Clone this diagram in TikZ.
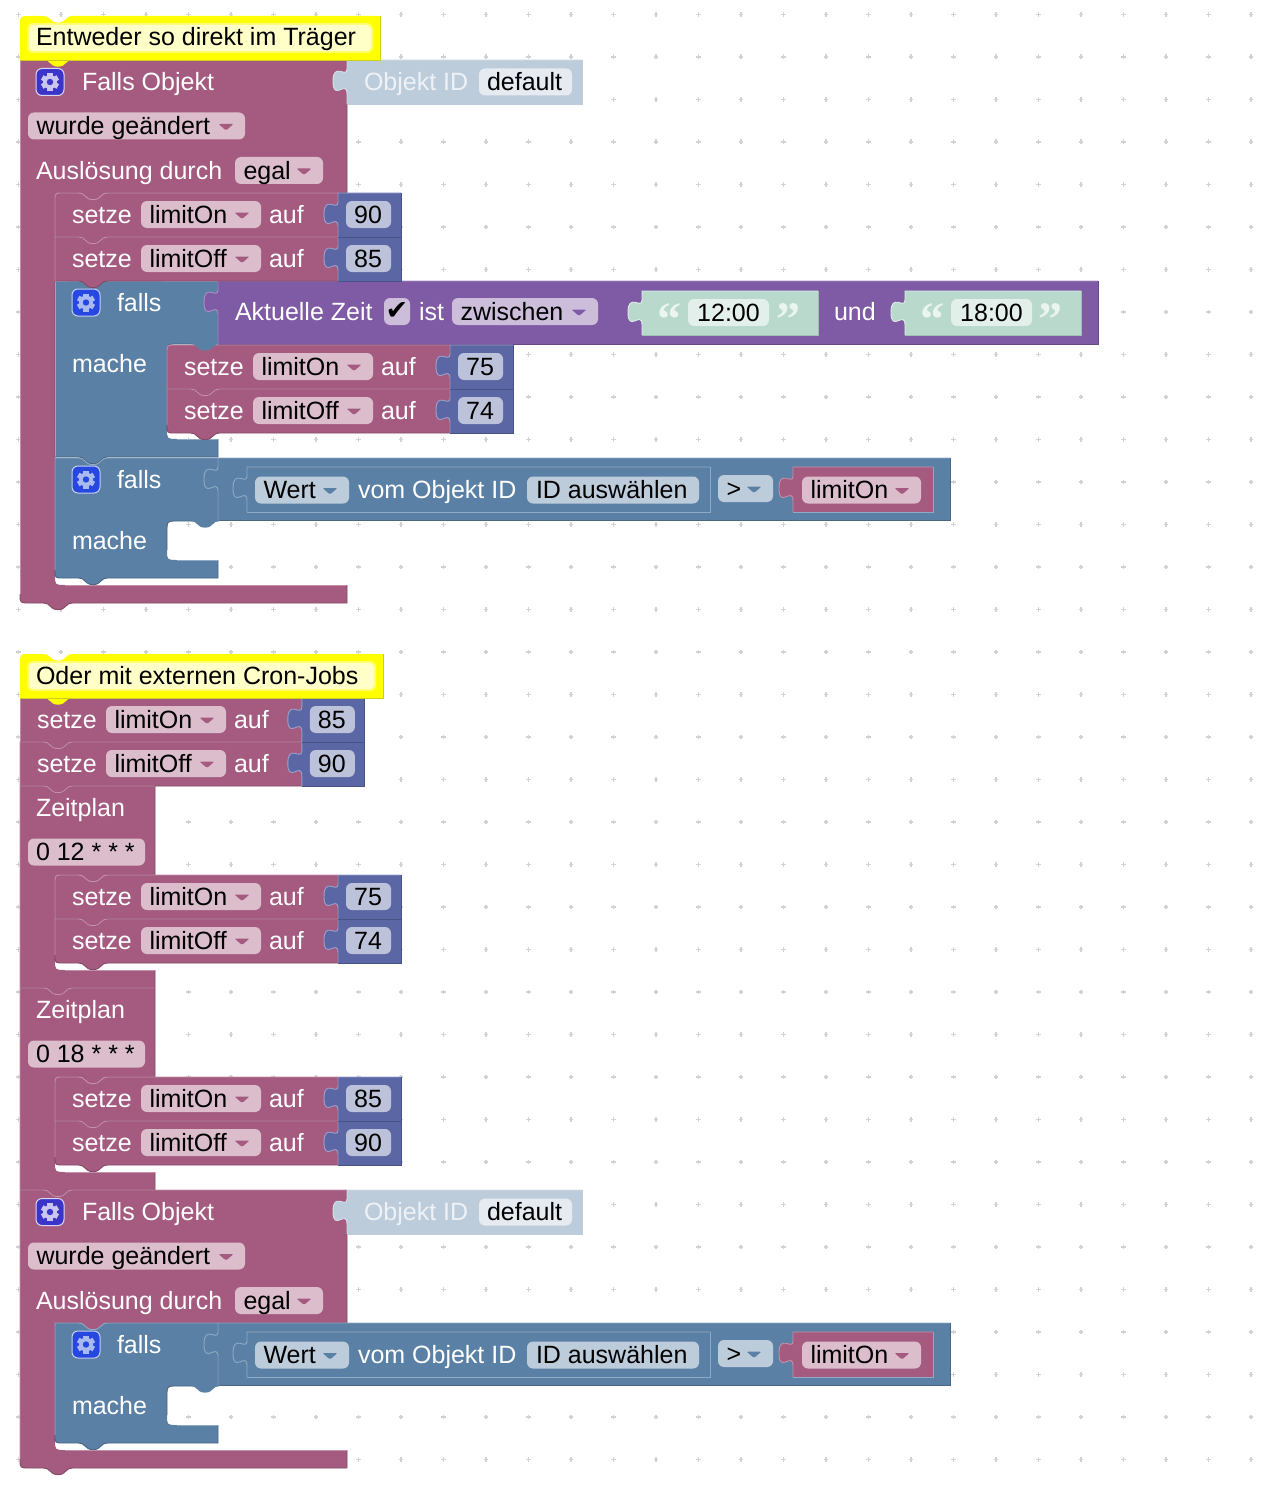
\documentclass[tikz,border=0pt]{standalone}
\usepackage{fontspec}
\setmainfont{Liberation Sans}
\newfontfamily\djv{DejaVu Sans}
\newfontfamily\qfont{Liberation Serif}
\pgfdeclarelayer{hl}
\pgfsetlayers{main,hl}
\definecolor{bkm}{HTML}{A55B80}\definecolor{ltm}{HTML}{C48FAA}\definecolor{dkm}{HTML}{844966}\definecolor{flm}{HTML}{DBBDCC}
\definecolor{bkb}{HTML}{5B80A5}\definecolor{ltb}{HTML}{8FAAC4}\definecolor{dkb}{HTML}{496684}\definecolor{flb}{HTML}{BDCCDB}
\definecolor{bkp}{HTML}{805BA5}\definecolor{ltp}{HTML}{AA8FC4}\definecolor{dkp}{HTML}{664984}\definecolor{flp}{HTML}{CCBDDB}
\definecolor{bki}{HTML}{5B67A5}\definecolor{lti}{HTML}{9AA2CC}\definecolor{dki}{HTML}{495284}\definecolor{fli}{HTML}{BDC2DB}
\definecolor{bkg}{HTML}{B8D9CC}\definecolor{ltg}{HTML}{DDEEE6}\definecolor{dkg}{HTML}{A3BFB4}\definecolor{flg}{HTML}{E3EFEA}
\definecolor{bks}{HTML}{BDCCDB}\definecolor{lts}{HTML}{D6E0EA}\definecolor{dks}{HTML}{BDCCDB}\definecolor{fls}{HTML}{E5EBF1}
\definecolor{yel}{HTML}{FFFF00}\definecolor{yelmid}{HTML}{FFFF70}\definecolor{yelin}{HTML}{FFFFC8}\definecolor{yeld}{HTML}{CFCF20}
\definecolor{gridc}{HTML}{D2D2D2}
\definecolor{quotec}{HTML}{EAF4F0}
\tikzset{
  edge/.style={line width=0.9pt},
  txt/.style={inner sep=0pt,outer sep=0pt,anchor=base west,font=\fontsize{25}{30}\selectfont},
  txtc/.style={inner sep=0pt,outer sep=0pt,anchor=base,font=\fontsize{25}{30}\selectfont},
  quotemark/.style={inner sep=0pt,outer sep=0pt,anchor=base,text=quotec,font=\qfont\bfseries\fontsize{48}{48}\selectfont}
}
\newcount\nn
\def\VO{0}
\def\Tab#1#2#3#4{-- (#1-14.5*#2,#3) .. controls (#1-11*#2,#3) and (#1-10*#2,#3+1*#4) .. (#1-8*#2,#3+3*#4) -- (#1-5*#2,#3+5.5*#4) .. controls (#1-3*#2,#3+7*#4) and (#1+3*#2,#3+7*#4) .. (#1+5*#2,#3+5.5*#4) -- (#1+8*#2,#3+3*#4) .. controls (#1+10*#2,#3+1*#4) and (#1+11*#2,#3) .. (#1+14.5*#2,#3)}
\def\Puz#1#2#3#4{-- (#1,#2) .. controls (#1,#2+0.4*#4) and (#1-#3,#2-0.32*#4) .. (#1-#3,#2+0.5*#4) .. controls (#1-#3,#2+1.32*#4) and (#1,#2+0.4*#4) .. (#1,#2+#4)}
\newcommand\OnTop[2]{\ifnum#1=0\relax #2\else\begin{pgfonlayer}{hl}#2\end{pgfonlayer}\fi}
% k d rb x1 y1 x2 yin1 xin yin2
\newcommand\CBlock[9]{%
 \fill[fill=bk#1] (#4,#5) -- (#6,#5) -- (#6,#7) -- (#8+10,#7) .. controls (#8,#7) .. (#8,#7+10) -- (#8,#9-10) .. controls (#8,#9) .. (#8+10,#9) -- (#6,#9) -- (#6,#9+18) \Tab{#4+38}{-1}{#9+18}{1} -- (#4+#3,#9+18) .. controls (#4,#9+18) .. (#4,#9+18-#3) -- cycle;
 \OnTop{#2}{\draw[edge,draw=lt#1] (#4,#9+18-#3) -- (#4,#5) \Tab{#4+38}{1}{#5}{#2} -- (#6,#5);
   \draw[edge,draw=lt#1] (#8+10,#9) -- (#6,#9);}
 \draw[edge,draw=dk#1] (#6,#5) -- (#6,#7) -- (#8+10,#7) .. controls (#8,#7) .. (#8,#7+10) -- (#8,#9-10);
 \draw[edge,draw=dk#1] (#6,#9) -- (#6,#9+18) \Tab{#4+38}{-1}{#9+18}{1} -- (#4+#3,#9+18) .. controls (#4,#9+18) .. (#4,#9+18-#3);
}
\newcommand\ArmTab[3]{\fill[fill=bk#1] (#2-14.5,#3-1) \Tab{#2}{1}{#3}{1} -- (#2+14.5,#3-1) -- cycle;}
% k d rt rb x1 y1 x2 y2
\newcommand\Stmt[8]{%
 \fill[fill=bk#1] (#5,#6+#3) .. controls (#5,#6) .. (#5+#3,#6) -- (#7,#6) -- (#7,#8) \Tab{#5+38}{-1}{#8}{1} -- (#5+#4,#8) .. controls (#5,#8) .. (#5,#8-#4) -- cycle;
 \OnTop{#2}{\draw[edge,draw=lt#1] (#5,#8-#4) -- (#5,#6+#3) .. controls (#5,#6) .. (#5+#3,#6) \Tab{#5+38}{1}{#6}{#2} -- (#7,#6);}
 \draw[edge,draw=dk#1] (#7,#6) -- (#7,#8) \Tab{#5+38}{-1}{#8}{1} -- (#5+#4,#8) .. controls (#5,#8) .. (#5,#8-#4);
}
% k x1 y1 x2 y2
\newcommand\Val[5]{%
 \fill[fill=bk#1] (#2,#3) \Puz{#2}{#3+9}{14}{25} -- (#2,#5) -- (#4,#5) -- (#4,#3) -- cycle;
 \draw[edge,draw=lt#1] (#4,#3) -- (#2,#3) \Puz{#2}{#3+9}{14}{25} -- (#2,#5);
 \draw[edge,draw=dk#1] (#2,#5) -- (#4,#5) -- (#4,#3);
}
\newcommand\ValI[5]{%
 \Val{#1}{#2}{#3}{#4}{#5}%
 \draw[edge,draw=ltb] (#2,#5) -- (#4,#5) -- (#4,#3);
}
\newcommand\Lab[4][white]{\global\advance\nn by 1 \node[txt,text=#1] (t\the\nn) at (#2,#3+8.5) {#4};}
\newcommand\LabC[3]{\global\advance\nn by 1 \node[txtc,text=black] (t\the\nn) at (#1,#2+8.5) {#3};}
% field: color x1 x2 cy
\newcommand\Fld[4]{\fill[fill=#1,rounded corners=6pt] (#2,#4-13.5) rectangle (#3,#4+13.5);}
% dropdown: k x1 x2 cy text
\newcommand\DD[5]{\Fld{fl#1}{#2}{#3}{#4}\Lab[black]{#2+8.5}{#4}{#5}%
 \fill[fill=bk#1,rounded corners=1.2pt] (#3-26.5,#4-2) -- (#3-11.5,#4-2) -- (#3-19,#4+4.5) -- cycle;}
\newcommand\Gear[4]{% cx cy bg fg
 \draw[draw=#4!70!white,fill=#3,rounded corners=6pt,line width=1pt] (#1-14,#2-13.5) rectangle (#1+14,#2+13.5);
 \foreach \a in {0,60,120}{\fill[fill=#4,rotate around={\a:(#1,#2)}] (#1-2.6,#2-9) rectangle (#1+2.6,#2+9);}
 \fill[fill=#4] (#1,#2) circle (7);
 \fill[fill=#3] (#1,#2) circle (3.2);
}
\newcommand\Setze[7]{% d rt rb x y var val
 \Stmt{m}{#1}{#2}{#3}{#4}{#5}{#4+283+\VO}{#5+44}%
 \Val{i}{#4+283+\VO}{#5}{#4+346+\VO}{#5+44}%
 \Lab{#4+17}{#5+21.5}{setze}%
 \DD{m}{#4+86}{#4+206}{#5+21.5}{#6}%
 \Lab{#4+214}{#5+21.5}{auf}%
 \Fld{fli}{#4+291+\VO}{#4+336+\VO}{#5+21.5}%
 \LabC{#4+313+\VO}{#5+21.5}{#7}%
}
\newcommand\Comment[4]{% x2 y text innerR
 \fill[fill=yel] (20,#2+10) .. controls (20,#2) .. (30,#2) \Tab{58}{1}{#2}{1} -- (#1,#2) -- (#1,#2+44) \Tab{58}{-1}{#2+44}{1} -- (20,#2+44) -- cycle;
 \draw[edge,draw=yeld] (#1,#2) -- (#1,#2+44) -- (20,#2+44);
 \fill[fill=yelmid,rounded corners=6pt] (27,#2+7) rectangle (#4+2,#2+37);
 \fill[fill=yelin,rounded corners=5pt] (29,#2+9) rectangle (#4,#2+35);
 \Lab[black]{36}{#2+21.5}{#3}%
}
\newcommand\Hat[3]{% y yin2 d
 \CBlock{m}{#3}{9}{20}{#1}{347}{#1+133}{55}{#2}%
 \Val{s}{347}{#1}{582}{#1+44}%
 \Gear{50}{#1+22}{iconm}{iconmf}%
 \Lab{82}{#1+22}{Falls Objekt}%
 \Lab[objtext]{364}{#1+22}{Objekt ID}%
 \Fld{fls}{479}{572}{#1+22}\Lab[black]{487}{#1+22}{default}%
 \DD{m}{28}{245}{#1+66}{wurde geändert}%
 \Lab{36}{#1+110.5}{Auslösung durch}%
 \DD{m}{235}{323}{#1+110.5}{egal}%
}
\newcommand\FallsLabels[4]{% y(top) falls-cy mache-cy unused
 \Gear{86}{#2}{iconb}{iconbf}%
 \Lab{117}{#2}{falls}%
 \Lab{72}{#3}{mache}%
}
\newcommand\FallsCmp[1]{% top y
 \CBlock{b}{1}{8}{55}{#1}{218}{#1+63}{167}{#1+102}%
 \FallsLabels{#1}{#1+21.5}{#1+82.5}{}%
 \Val{b}{218}{#1}{950}{#1+62}%
 \ValI{b}{247}{#1+9}{710}{#1+54}%
 \DD{b}{255}{349}{#1+32}{Wert}%
 \Lab{358}{#1+32}{vom Objekt ID}%
 \Fld{flb}{527}{699}{#1+32}\Lab[black]{536}{#1+32}{ID auswählen}%
 \DD{b}{718}{773}{#1+30.5}{>}%
 \ValI{m}{793}{#1+9}{933}{#1+54}%
 \DD{m}{802}{921}{#1+32}{limitOn}%
 \ArmTab{b}{205}{#1+63}%
}
\newcommand\Zeit[3]{% y cron val text handled by caller
 \CBlock{m}{1}{0}{20}{#1}{155}{#1+89}{55}{#1+184}%
 \Lab{36}{#1+22}{Zeitplan}%
 \Fld{flm}{28}{145}{#1+66}\Lab[black]{36}{#1+66}{#2}%
}
\newcommand\Quot[2]{\global\advance\nn by 1 \node[quotemark] (t\the\nn) at (#1,335) {#2};}
\definecolor{iconm}{HTML}{3B34C8}\definecolor{iconmf}{HTML}{C9C6F2}
\definecolor{iconb}{HTML}{2748E0}\definecolor{iconbf}{HTML}{A9BAF0}
\definecolor{objtext}{HTML}{EEF2F6}
\begin{document}
\begin{tikzpicture}[x=1pt,y=-1pt]
\useasboundingbox (0,0) rectangle (1278,1490);
\fill[white] (0,0) rectangle (1278,1490);
\foreach \i in {0,...,29}{\foreach \j in {0,...,34}{
  \draw[draw=gridc,line width=1.5pt] (18.3+42.5*\i-2.3,14.3+42.5*\j) -- (18.3+42.5*\i+2.3,14.3+42.5*\j) (18.3+42.5*\i,14.3+42.5*\j-2.3) -- (18.3+42.5*\i,14.3+42.5*\j+2.3);
}}
% ---------- first stack
\Hat{60}{585}{0}
\FallsCmp{458}
% falls 1
\CBlock{b}{0}{0}{55}{281}{218}{344}{167}{439}
\FallsLabels{281}{302.5}{363.5}{}
\Val{p}{218}{281}{1098}{344}
\Lab{235}{311.5}{Aktuelle Zeit}
\Fld{flp}{384}{410}{311.5}
\global\advance\nn by 1 \node[inner sep=0pt,font=\djv\fontsize{27}{27}\selectfont,text=black] (t\the\nn) at (397,311) {✔};
\Lab{419}{311.5}{ist}
\DD{p}{452}{598}{311.5}{zwischen}
\Val{g}{642}{291}{818}{335}
\Fld{flg}{688}{769}{312.5}\LabC{728.5}{312.5}{12:00}
\Quot{669}{“}\Quot{788}{”}
\Lab{834}{311.5}{und}
\Val{g}{905}{291}{1081}{335}
\Fld{flg}{951}{1032}{312.5}\LabC{991.5}{312.5}{18:00}
\Quot{932}{“}\Quot{1050}{”}
\Setze{1}{0}{8}{167}{389}{limitOff}{74}
\Setze{0}{8}{0}{167}{345}{limitOn}{75}
\ArmTab{b}{205}{344}
\Setze{1}{0}{0}{55}{237}{limitOff}{85}
\Setze{1}{8}{0}{55}{193}{limitOn}{90}
\ArmTab{m}{93}{193}
\Comment{380}{16}{Entweder so direkt im Träger}{371}
% ---------- second stack
\Hat{1190}{1450}{1}
\FallsCmp{1323}
\ArmTab{m}{93}{1323}
\Zeit{988}{0 18 * * *}{}
\Setze{1}{0}{8}{55}{1121}{limitOff}{90}
\Setze{1}{8}{0}{55}{1077}{limitOn}{85}
\ArmTab{m}{93}{1077}
\Zeit{786}{0 12 * * *}{}
\Setze{1}{0}{8}{55}{919}{limitOff}{74}
\Setze{1}{8}{0}{55}{875}{limitOn}{75}
\ArmTab{m}{93}{875}
\def\VO{-1.2}
\Setze{1}{0}{0}{20}{742}{limitOff}{90}
\Setze{0}{0}{0}{20}{698}{limitOn}{85}
\Comment{383}{654}{Oder mit externen Cron-Jobs}{374}
\end{tikzpicture}
\end{document}
